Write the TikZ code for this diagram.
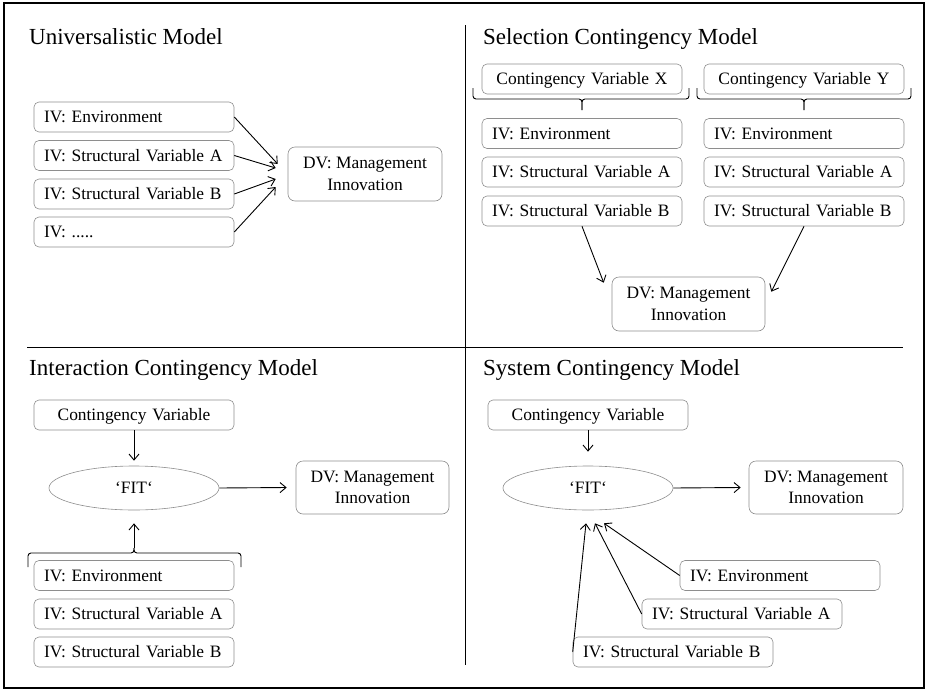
\documentclass[tikz,border=0pt]{standalone}
\usepackage{fontspec}
\setmainfont{Liberation Serif}
\usetikzlibrary{arrows.meta, calc, shapes.geometric}
\definecolor{boxline}{HTML}{8E8E8E}
\definecolor{boxfill}{HTML}{FFFFFF}
\definecolor{ruleline}{HTML}{000000}
\tikzset{
  ivbox/.style = {rectangle, rounded corners=5pt, draw=boxline, fill=boxfill, line width=0.6pt,
                  minimum width=200pt, minimum height=30pt, text width=180pt, inner xsep=10pt,
                  inner ysep=0pt, align=left, text height=11.5pt, text depth=0pt,
                  font=\fontsize{17.4}{21.6}\selectfont},
  cvbox/.style = {ivbox, align=center},
  dvbox/.style = {rectangle, rounded corners=7pt, draw=boxline, fill=boxfill, line width=0.6pt,
                  minimum width=154pt, minimum height=54pt, align=center, inner sep=2pt,
                  font=\fontsize{17.4}{21.6}\selectfont},
  fitell/.style= {ellipse, draw=boxline, fill=boxfill, line width=0.6pt, minimum width=170pt,
                  minimum height=44pt, inner sep=0pt, font=\fontsize{17.4}{21.6}\selectfont},
  ttl/.style   = {anchor=base west, inner sep=0pt, font=\fontsize{23}{27}\selectfont},
  flow/.style  = {-{Straight Barb[length=6pt, width=10pt]}, line width=0.9pt},
  brc/.style   = {line width=0.9pt, rounded corners=3pt},
  rule/.style  = {line width=0.9pt, draw=ruleline},
}

\begin{document}
\begin{tikzpicture}[x=1pt, y=-1pt]
	\useasboundingbox (0,0) rectangle (927,691);
	\draw[rule, line width=2.5pt] (4,3) rectangle (924,688);
	\draw[rule] (465,25) -- (465,665);
	\draw[rule] (27,347) -- (903,347);

	\node[ttl] (tuni) at (29,44) {Universalistic Model};
	\node[ivbox] (uenv)  at (134,117)   {IV: Environment};
	\node[ivbox] (uvara) at (134,155.5) {IV: Structural Variable A};
	\node[ivbox] (uvarb) at (134,194)   {IV: Structural Variable B};
	\node[ivbox] (uetc)  at (134,232)   {IV: .....};
	\node[dvbox] (udv)   at (365,174)   {DV: Management\\Innovation};
	\foreach \s/\dx/\dy in {uenv/-10/-10, uvara/-12/-6, uvarb/-12/5, uetc/-12/13}{\draw[flow] (\s.east) -- ($(udv.west)+(\dx,\dy)$);}

	\node[ttl] (tsel) at (483,44) {Selection Contingency Model};
	\node[cvbox] (scvx)  at (582,79)    {Contingency Variable X};
	\node[cvbox] (scvy)  at (804,79)    {Contingency Variable Y};
	\node[ivbox] (senvx) at (582,133.5) {IV: Environment};
	\node[ivbox] (svarax) at (582,172)  {IV: Structural Variable A};
	\node[ivbox] (svarbx) at (582,211)  {IV: Structural Variable B};
	\node[ivbox] (senvy) at (804,133.5) {IV: Environment};
	\node[ivbox] (svaray) at (804,172)  {IV: Structural Variable A};
	\node[ivbox] (svarby) at (804,211)  {IV: Structural Variable B};
	\node[dvbox, minimum width=153pt] (sdv) at (688.5,304) {DV: Management\\Innovation};
	\draw[brc] (473,88) |- (582,99) -- (582,110);
	\draw[brc] (689,88) |- (582,99) -- (582,110);
	\draw[brc] (697,88) |- (804,99) -- (804,110);
	\draw[brc] (911,88) |- (804,99) -- (804,110);
	\draw[flow] (svarbx.south) -- ($(sdv.north west)+(-8,6)$);
	\draw[flow] (svarby.south) -- ($(sdv.north east)+(6,15)$);

	\node[ttl] (tint) at (29,375) {Interaction Contingency Model};
	\node[cvbox] (icv)   at (134,415)   {Contingency Variable};
	\node[fitell] (ifit) at (134,488)   {‘FIT‘};
	\node[dvbox, minimum width=153pt, minimum height=53pt] (idv) at (372.5,487.5) {DV: Management\\Innovation};
	\node[ivbox] (ienv)  at (134,575.5) {IV: Environment};
	\node[ivbox] (ivara) at (134,614)   {IV: Structural Variable A};
	\node[ivbox] (ivarb) at (134,652)   {IV: Structural Variable B};
	\coordinate (itip) at (134,548);
	\draw[brc] (28,567) |- (134,553) -- (itip);
	\draw[brc] (241,567) |- (134,553) -- (itip);
	\draw[flow] (icv.south) -- ($(ifit.north)+(0,-5)$);
	\draw[flow] (ifit.east) -- ($(idv.west)+(-9,0)$);
	\draw[flow] (itip) -- ($(ifit.south)+(0,13)$);

	\node[ttl] (tsys) at (483,375) {System Contingency Model};
	\node[cvbox] (ycv)   at (588,415)   {Contingency Variable};
	\node[fitell] (yfit) at (588,488)   {‘FIT‘};
	\node[dvbox, minimum height=53pt] (ydv) at (826,487.5) {DV: Management\\Innovation};
	\node[ivbox] (yenv)  at (780,575.5) {IV: Environment};
	\node[ivbox] (yvara) at (742,614)   {IV: Structural Variable A};
	\node[ivbox] (yvarb) at (673,652)   {IV: Structural Variable B};
	\draw[flow] (ycv.south) -- ($(yfit.north)+(0,-14)$);
	\draw[flow] (yfit.east) -- ($(ydv.west)+(-8,0)$);
	\foreach \s/\dx in {yenv/16, yvara/7, yvarb/-2}{\draw[flow] (\s.west) -- ($(yfit.south)+(\dx,13)$);}
\end{tikzpicture}
\end{document}
